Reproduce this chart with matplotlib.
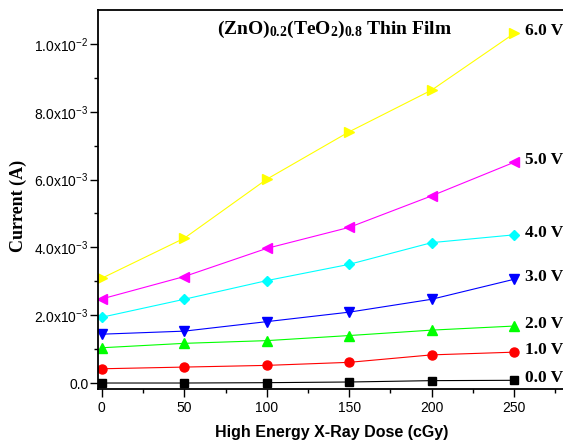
import matplotlib
matplotlib.use("Agg")
import matplotlib.pyplot as plt
from matplotlib.ticker import FixedLocator

plt.rcParams['mathtext.fontset'] = 'custom'
plt.rcParams['mathtext.rm'] = 'Liberation Sans'
plt.rcParams['mathtext.bf'] = 'Liberation Serif:bold'
plt.rcParams['mathtext.default'] = 'regular'
plt.rcParams['font.family'] = ['Liberation Sans', 'DejaVu Sans']

dose = [0, 50, 100, 150, 200, 250]
i_0v = [0.00e-3, 0.00e-3, 0.01e-3, 0.03e-3, 0.07e-3, 0.08e-3]
i_1v = [0.42e-3, 0.47e-3, 0.52e-3, 0.61e-3, 0.83e-3, 0.91e-3]
i_2v = [1.04e-3, 1.17e-3, 1.25e-3, 1.40e-3, 1.56e-3, 1.68e-3]
i_3v = [1.44e-3, 1.53e-3, 1.81e-3, 2.09e-3, 2.47e-3, 3.06e-3]
i_4v = [1.94e-3, 2.47e-3, 3.02e-3, 3.50e-3, 4.14e-3, 4.37e-3]
i_5v = [2.48e-3, 3.14e-3, 3.97e-3, 4.59e-3, 5.52e-3, 6.51e-3]
i_6v = [3.09e-3, 4.27e-3, 6.01e-3, 7.41e-3, 8.64e-3, 10.31e-3]

series = [
    ("0.0 V", i_0v, "#000000", "s", 5.5),
    ("1.0 V", i_1v, "#FF0000", "o", 6.5),
    ("2.0 V", i_2v, "#00FF00", "^", 7),
    ("3.0 V", i_3v, "#0000FF", "v", 7),
    ("4.0 V", i_4v, "#00FFFF", "D", 5.5),
    ("5.0 V", i_5v, "#FF00FF", "<", 7),
    ("6.0 V", i_6v, "#FFFF00", ">", 7),
]

yticks = [0, 2e-3, 4e-3, 6e-3, 8e-3, 1e-2]
yticklabels = ["0.0", "2.0x10$^{-3}$", "4.0x10$^{-3}$", "6.0x10$^{-3}$",
               "8.0x10$^{-3}$", "1.0x10$^{-2}$"]

fig = plt.figure(figsize=(5.63, 4.45), dpi=100)
ax = fig.add_axes([0.1735, 0.1258, 0.8277, 0.8517])

for label, vals, color, marker, ms in series:
    ax.plot(dose, vals, color=color, lw=0.8, marker=marker, ms=ms,
            mec=color, mfc=color)
    ax.annotate(label, xy=(dose[-1], vals[-1]), xytext=(11, 2),
                textcoords='offset pixels', ha='left', va='center',
                fontsize=12.5, fontweight='bold', family='Liberation Serif',
                annotation_clip=False)

ax.set_xlim(-2.5, 280)
ax.set_ylim(-0.177e-3, 11.0e-3)
ax.set_xticks(dose)
ax.set_xticklabels([str(d) for d in dose])
ax.xaxis.set_minor_locator(FixedLocator([25, 75, 125, 175, 225, 275]))
ax.set_yticks(yticks)
ax.set_yticklabels(yticklabels)
ax.yaxis.set_minor_locator(FixedLocator([1e-3, 3e-3, 5e-3, 7e-3, 9e-3]))

ax.tick_params(which='both', direction='out', width=1.0, labelsize=10,
               top=False, right=False)
ax.tick_params(which='major', length=5.5)
ax.tick_params(which='minor', length=3)
ax.tick_params(axis='y', pad=1)
ax.tick_params(axis='x', pad=3)
for s in ax.spines.values():
    s.set_linewidth(1.3)

fig.text(335 / 563, 1 - 29 / 445,
         r'$\mathbf{(ZnO)_{0.2}(TeO_2)_{0.8}}$ Thin Film',
         ha='center', va='center', fontsize=14, fontweight='bold',
         family='Liberation Serif')
fig.text(18 / 563, 1 - 206 / 445, 'Current (A)', rotation=90,
         ha='center', va='center', fontsize=13, fontweight='bold',
         family='Liberation Serif')
fig.text(332 / 563, 1 - 432 / 445, 'High Energy X-Ray Dose (cGy)',
         ha='center', va='center', fontsize=11.5, fontweight='bold')

fig.savefig('out.png', dpi=100)
